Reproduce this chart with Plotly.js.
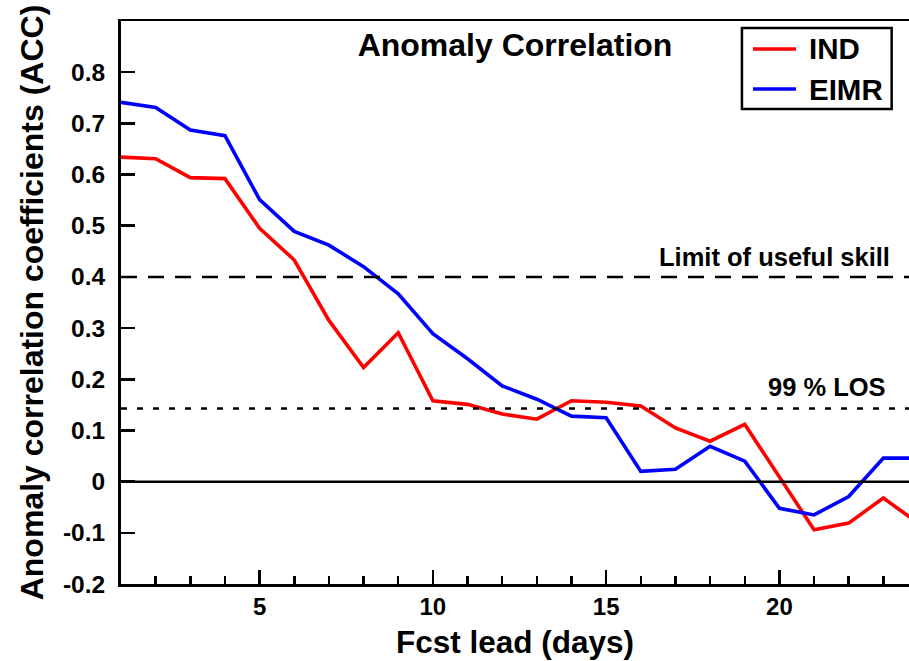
<!DOCTYPE html>
<html>
<head>
<meta charset="utf-8">
<script src="https://cdn.plot.ly/plotly-3.0.1.min.js"></script>
<style>html,body{margin:0;padding:0;background:#fff;}#chart{width:909px;height:661px;}</style>
</head>
<body>
<div id="chart"></div>
<script>
// Data
const leadDays = [1,2,3,4,5,6,7,8,9,10,11,12,13,14,15,16,17,18,19,20,21,22,23,24];
const indACC  = [0.634,0.631,0.594,0.592,0.495,0.433,0.315,0.223,0.291,0.158,0.151,0.132,0.122,0.158,0.155,0.148,0.105,0.079,0.112,0.010,-0.094,-0.081,-0.032,-0.081];
const eimrACC = [0.741,0.731,0.687,0.676,0.551,0.489,0.462,0.420,0.367,0.289,0.240,0.187,0.161,0.128,0.125,0.020,0.024,0.069,0.040,-0.052,-0.065,-0.029,0.046,0.046];
const seriesNames = ["IND","EIMR"];
const seriesColors = ["#ff0000","#0000ff"];
const yTickVals = [-0.2,-0.1,0,0.1,0.2,0.3,0.4,0.5,0.6,0.7,0.8];
const yTickText = ["-0.2","-0.1","0","0.1","0.2","0.3","0.4","0.5","0.6","0.7","0.8"];
const xTickVals = [5,10,15,20];
const xTickText = ["5","10","15","20"];
const usefulSkill = 0.4;
const los99 = 0.143;
const zeroLine = 0;

const FONT = "Liberation Sans, Arial, Helvetica, sans-serif";

const traces = seriesNames.map((nm, i) => ({
  x: leadDays, y: i === 0 ? indACC : eimrACC, name: nm, mode: "lines",
  line: {color: seriesColors[i], width: 3.6}, showlegend: false
}));

// Legend box drawn as shapes + text (paper coords)
const legX0 = 0.788, legX1 = 0.978, legY0 = 0.8437, legY1 = 0.9876;
const legLineX0 = 0.8020, legLineX1 = 0.8566, legTextX = 0.8705;
const legRowY = [0.9503, 0.8792];

const shapes = [
  {type: "line", xref: "paper", x0: 0, x1: 1, yref: "y", y0: usefulSkill, y1: usefulSkill,
   line: {color: "#000", width: 2.5, dash: "16px,11px"}},
  {type: "line", xref: "paper", x0: 0, x1: 1, yref: "y", y0: los99, y1: los99,
   line: {color: "#000", width: 2.5, dash: "6px,10px"}},
  {type: "line", xref: "paper", x0: 0, x1: 1, yref: "y", y0: zeroLine, y1: zeroLine,
   line: {color: "#000", width: 2.5}},
  {type: "rect", xref: "paper", yref: "paper", x0: legX0, x1: legX1, y0: legY0, y1: legY1,
   fillcolor: "#fff", line: {color: "#000", width: 2.5}}
];
const annotations = [
  {text: "Limit of useful skill", xref: "paper", x: 0.979, xanchor: "right",
   yref: "paper", y: 0.581, yanchor: "middle", showarrow: false,
   font: {family: FONT, size: 25.5, weight: "bold", color: "#000"}},
  {text: "99 % LOS", xref: "paper", x: 0.973, xanchor: "right",
   yref: "paper", y: 0.350, yanchor: "middle", showarrow: false,
   font: {family: FONT, size: 25.5, weight: "bold", color: "#000"}}
];
seriesNames.forEach((nm, i) => {
  shapes.push({type: "line", xref: "paper", yref: "paper", x0: legLineX0, x1: legLineX1,
    y0: legRowY[i], y1: legRowY[i], line: {color: seriesColors[i], width: 3.6}});
  annotations.push({text: nm, xref: "paper", x: legTextX, xanchor: "left",
    yref: "paper", y: legRowY[i], yanchor: "middle", showarrow: false,
    font: {family: FONT, size: 29.5, weight: "bold", color: "#000"}});
});

const layout = {
  width: 909, height: 661,
  margin: {l: 121, r: 0, t: 21, b: 77},
  paper_bgcolor: "#fff", plot_bgcolor: "#fff",
  font: {family: FONT, color: "#000", weight: "bold"},
  showlegend: false,
  title: {text: "Anomaly Correlation", x: 0.5, xref: "paper", xanchor: "center",
          y: 0.958, yref: "paper", yanchor: "middle",
          font: {family: FONT, size: 32, weight: "bold", color: "#000"}},
  xaxis: {
    range: [1, 23.74], showgrid: false, zeroline: false,
    showline: true, linecolor: "#000", linewidth: 2.5, mirror: true,
    tickmode: "array", tickvals: xTickVals, ticktext: xTickText,
    ticks: "inside", ticklen: 14, tickwidth: 2.5, tickcolor: "#000",
    minor: {dtick: 1, tick0: 0, ticks: "inside", ticklen: 8, tickwidth: 2.5, tickcolor: "#000", showgrid: false},
    tickfont: {family: FONT, size: 24, weight: "bold"},
    title: {text: "Fcst lead (days)", standoff: 12, font: {family: FONT, size: 31.5, weight: "bold"}}
  },
  yaxis: {
    range: [-0.2, 0.9], showgrid: false, zeroline: false,
    showline: true, linecolor: "#000", linewidth: 3, mirror: false,
    tickmode: "array", tickvals: yTickVals, ticktext: yTickText,
    ticks: "inside", ticklen: 14, tickwidth: 2.5, tickcolor: "#000",
    ticklabelstandoff: 8,
    tickfont: {family: FONT, size: 24.5, weight: "bold"},
    title: {text: "Anomaly correlation coefficients (ACC)", standoff: 10, font: {family: FONT, size: 32, weight: "bold"}}
  },
  shapes: shapes,
  annotations: annotations
};

Plotly.newPlot("chart", traces, layout, {displayModeBar: false, staticPlot: true});
</script>
</body>
</html>
